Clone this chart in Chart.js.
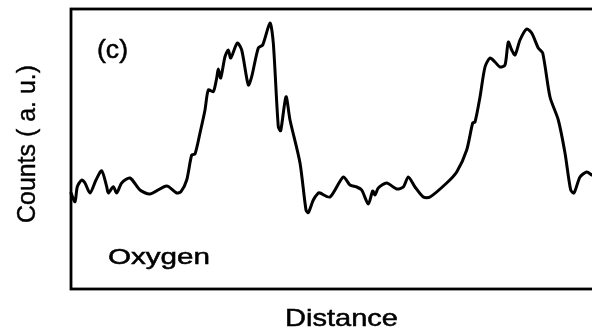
<!DOCTYPE html>
<html>
<head>
<meta charset="utf-8">
<script src="https://cdn.jsdelivr.net/npm/chart.js@4/dist/chart.umd.min.js"></script>
<style>
html,body{margin:0;padding:0;background:#fff;overflow:hidden;width:592px;height:327px;}
#wrap{width:600px;height:327px;}
</style>
</head>
<body>
<div id="wrap"><canvas id="c" width="600" height="327"></canvas></div>
<script>
const distance = [0,4,6.3,10.7,14,19,25,30.7,35.7,37.3,42.3,45.7,50.7,59,69,79,95.7,105.7,110,115.7,120.7,124,129,134,137.3,142.3,145.7,147.3,149.7,154,157.3,159.7,166.3,170.7,177.3,180.7,187.3,191.7,199,202.3,207.3,209.7,215,219,229,235,237.3,242.3,247.3,249,259,272.3,279,285.7,290.7,297.3,301.7,304,307.3,315.7,325.7,332.3,337.3,344,352.3,359,375.7,385.7,395.7,401.7,404,409,414,419,424,429,434,437.3,440.7,444,449,455.7,460.7,467.3,471.7,479,487.3,494,499.7,503,509,515.7,520.7];
const counts = [96,87.3,102.3,109,106,96,109,118.3,102.3,96,102.3,96,106,111,99,95,103,96,97.3,109,134,135,156,179,199,197.3,211,220,211,232.3,239,231,246,239,204,212.3,241,244,266,246,162.3,158.3,192.3,169,126,79,76.3,89,96,96,92,112,104,102,99,85,98,94,101,106,100,102,112,102,92,92,106,117,139,166,167,192,222,231,227,222,224,247,239,234,249,260,256,241,236,192,169,136,99,96,112,117,114];
const xRange = [0, 525];
const yRange = [0, 280];
const panelLabel = "(c)";
const elementLabel = "Oxygen";
const xTitle = "Distance";
const yTitle = "Counts ( a. u.)";

const FONT = "'Liberation Sans', Arial, Helvetica, sans-serif";

function drawStretched(ctx, text, x, y, size, width) {
  ctx.save();
  ctx.font = 'normal ' + size + 'px ' + FONT;
  const w = ctx.measureText(text).width;
  ctx.translate(x, y);
  ctx.scale(width / w, 1);
  ctx.textAlign = 'left';
  ctx.textBaseline = 'alphabetic';
  ctx.fillStyle = '#000';
  ctx.strokeStyle = '#000';
  ctx.lineWidth = 0.5;
  ctx.fillText(text, 0, 0);
  ctx.strokeText(text, 0, 0);
  ctx.restore();
}

const framePlugin = {
  id: 'frame',
  beforeDatasetsDraw(chart) {
    const {ctx, chartArea: a} = chart;
    ctx.save();
    ctx.strokeStyle = '#000';
    ctx.lineWidth = 2.8;
    ctx.strokeRect(a.left, a.top, a.right - a.left, a.bottom - a.top);
    ctx.restore();
  },
  afterDraw(chart) {
    const {ctx, chartArea: a} = chart;
    drawStretched(ctx, panelLabel, a.left + 26, a.top + 49, 25, 31);
    drawStretched(ctx, elementLabel, a.left + 37, a.bottom - 25, 22, 102);
    drawStretched(ctx, xTitle, 285, 326, 24, 113);
    ctx.save();
    ctx.font = 'normal 25px ' + FONT;
    const w = ctx.measureText(yTitle).width;
    ctx.translate(35, 223);
    ctx.rotate(-Math.PI / 2);
    ctx.scale(158 / w, 1);
    ctx.fillStyle = '#000';
    ctx.strokeStyle = '#000';
    ctx.lineWidth = 0.4;
    ctx.textAlign = 'left';
    ctx.textBaseline = 'alphabetic';
    ctx.fillText(yTitle, 0, 0);
    ctx.strokeText(yTitle, 0, 0);
    ctx.restore();
  }
};

new Chart(document.getElementById('c'), {
  type: 'line',
  data: {
    datasets: [{
      data: distance.map((d, i) => ({x: d, y: counts[i]})),
      borderColor: '#000',
      borderWidth: 3,
      pointRadius: 0,
      tension: 0.25,
      fill: false,
      clip: false,
      borderJoinStyle: 'round',
      borderCapStyle: 'round'
    }]
  },
  options: {
    responsive: false,
    animation: false,
    devicePixelRatio: 1,
    layout: {padding: {left: 71, top: 9, right: 4, bottom: 38}},
    plugins: {legend: {display: false}, tooltip: {enabled: false}},
    scales: {
      x: {type: 'linear', display: false, min: xRange[0], max: xRange[1]},
      y: {type: 'linear', display: false, min: yRange[0], max: yRange[1]}
    }
  },
  plugins: [framePlugin]
});
</script>
</body>
</html>
